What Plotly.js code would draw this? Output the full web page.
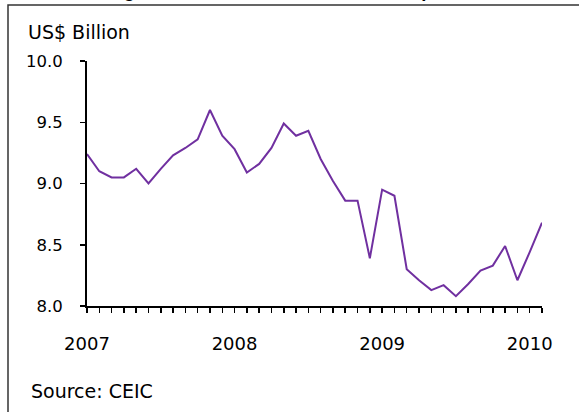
<!DOCTYPE html>
<html>
<head>
<meta charset="utf-8">
<script src="https://cdn.plot.ly/plotly-3.0.1.min.js"></script>
<style>
  html, body { margin: 0; padding: 0; background: #ffffff; }
  #chart { width: 579px; height: 412px; }
</style>
</head>
<body>
<div id="chart"></div>
<script>
// Monthly series, Jan 2007 - Feb 2010 (US$ billion)
const months = [
  'Jan 2007','Feb 2007','Mar 2007','Apr 2007','May 2007','Jun 2007',
  'Jul 2007','Aug 2007','Sep 2007','Oct 2007','Nov 2007','Dec 2007',
  'Jan 2008','Feb 2008','Mar 2008','Apr 2008','May 2008','Jun 2008',
  'Jul 2008','Aug 2008','Sep 2008','Oct 2008','Nov 2008','Dec 2008',
  'Jan 2009','Feb 2009','Mar 2009','Apr 2009','May 2009','Jun 2009',
  'Jul 2009','Aug 2009','Sep 2009','Oct 2009','Nov 2009','Dec 2009',
  'Jan 2010','Feb 2010'
];
const values = [
  9.24, 9.10, 9.05, 9.05, 9.12, 9.00, 9.12, 9.23, 9.29, 9.36, 9.60, 9.39,
  9.28, 9.09, 9.16, 9.29, 9.49, 9.39, 9.43, 9.20, 9.02, 8.86, 8.86, 8.39,
  8.95, 8.90, 8.30, 8.21, 8.13, 8.17, 8.08, 8.18, 8.29, 8.33, 8.49, 8.21,
  8.44, 8.68
];
const yearLabels = ['2007', '2008', '2009', '2010'];
const yTicks = [8.0, 8.5, 9.0, 9.5, 10.0];
const yTickText = ['8.0', '8.5', '9.0', '9.5', '10.0'];

// one tick per month, year label on each January
const xTickText = months.map(m => {
  const yr = m.slice(4);
  return m.startsWith('Jan') && yearLabels.includes(yr) ? yr : '';
});

const FONT = 'DejaVu Sans, Liberation Sans, Arial, sans-serif';

// plot area geometry (px) used to place frame and captions
const W = 579, H = 412;
const M = { l: 87, r: 37, t: 61, b: 106 };
const pw = W - M.l - M.r, ph = H - M.t - M.b;
const px = x => (x - M.l) / pw;
const py = y => 1 - (y - M.t) / ph;

const trace = {
  x: months,
  y: values,
  type: 'scatter',
  mode: 'lines',
  line: { color: '#7030a0', width: 2 },
  hoverinfo: 'skip'
};

const layout = {
  width: W,
  height: H,
  margin: M,
  paper_bgcolor: '#ffffff',
  plot_bgcolor: '#ffffff',
  showlegend: false,
  font: { family: FONT, color: '#000000' },
  xaxis: {
    type: 'category',
    range: [0, months.length - 1],
    tickmode: 'array',
    tickvals: months,
    ticktext: xTickText,
    ticks: 'outside',
    ticklen: 5,
    tickwidth: 1.5,
    tickcolor: '#000000',
    tickfont: { family: FONT, size: 18, color: '#000000' },
    ticklabelstandoff: 15,
    showline: true,
    linecolor: '#000000',
    linewidth: 2,
    showgrid: false,
    zeroline: false,
    fixedrange: true
  },
  yaxis: {
    range: [8, 10],
    tickmode: 'array',
    tickvals: yTicks,
    ticktext: yTickText,
    ticks: 'outside',
    ticklen: 5,
    tickwidth: 1.5,
    tickcolor: '#000000',
    tickfont: { family: FONT, size: 16.5, color: '#000000' },
    ticklabelstandoff: 14,
    showline: true,
    linecolor: '#000000',
    linewidth: 2,
    showgrid: false,
    zeroline: false,
    fixedrange: true
  },
  shapes: [
    {
      type: 'rect', xref: 'paper', yref: 'paper',
      x0: px(8), x1: px(640), y0: py(470), y1: py(5),
      line: { color: '#333333', width: 1.5 },
      fillcolor: 'rgba(0,0,0,0)',
      layer: 'below'
    }
  ],
  annotations: [
    {
      text: 'Figure 3: Total Non-Oil Domestic Exports',
      xref: 'paper', yref: 'paper',
      x: px(105), y: py(3),
      xanchor: 'left', yanchor: 'bottom',
      showarrow: false,
      font: { family: 'Liberation Sans, Arial, sans-serif', size: 18.5, weight: 'bold', color: '#000000' }
    },
    {
      text: 'US$ Billion',
      xref: 'paper', yref: 'paper',
      x: px(26), y: py(31.5),
      xanchor: 'left', yanchor: 'middle',
      showarrow: false,
      font: { family: FONT, size: 19, color: '#000000' }
    },
    {
      text: 'Source: CEIC',
      xref: 'paper', yref: 'paper',
      x: px(29), y: py(391),
      xanchor: 'left', yanchor: 'middle',
      showarrow: false,
      font: { family: FONT, size: 19, color: '#000000' }
    }
  ]
};

Plotly.newPlot('chart', [trace], layout, { staticPlot: true, displayModeBar: false });
</script>
</body>
</html>
